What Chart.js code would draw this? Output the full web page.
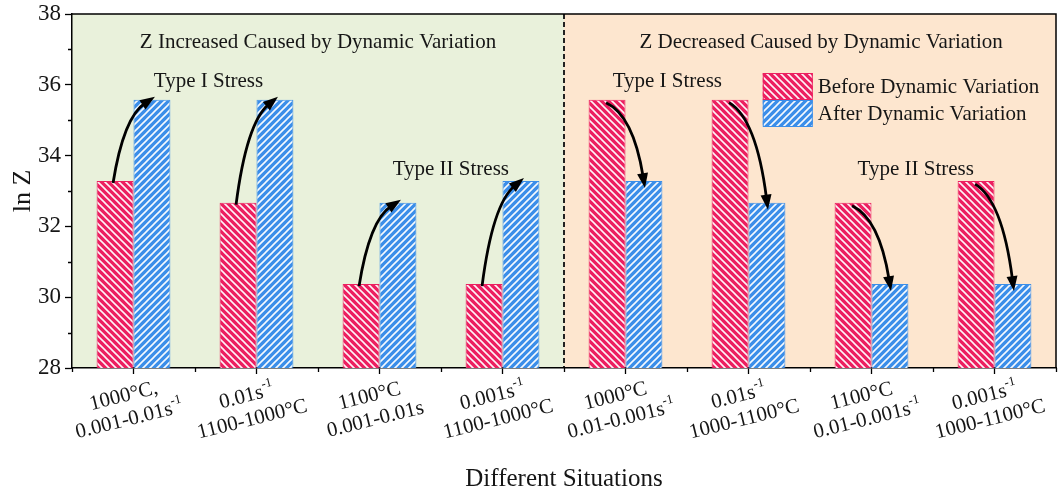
<!DOCTYPE html>
<html>
<head>
<meta charset="utf-8">
<script src="https://cdn.jsdelivr.net/npm/chart.js@4.4.1/dist/chart.umd.min.js"></script>
<style>
  html, body { margin: 0; padding: 0; background: #fff; }
  #wrap { width: 1061px; height: 496px; }
</style>
</head>
<body>
<div id="wrap"><canvas id="chart"></canvas></div>
<script>
// x categories, two lines per tick; ^{..} is drawn as superscript
const categories = [
    ["1000°C,", "0.001-0.01s^{-1}"],
    ["0.01s^{-1}", "1100-1000°C"],
    ["1100°C", "0.001-0.01s"],
    ["0.001s^{-1}", "1100-1000°C"],
    ["1000°C", "0.01-0.001s^{-1}"],
    ["0.01s^{-1}", "1000-1100°C"],
    ["1100°C", "0.01-0.001s^{-1}"],
    ["0.001s^{-1}", "1000-1100°C"]
];
const seriesNames = ["Before Dynamic Variation", "After Dynamic Variation"];
const beforeValues = [33.28, 32.67, 30.37, 30.37, 35.58, 35.58, 32.67, 33.28];
const afterValues = [35.58, 35.58, 32.67, 33.28, 33.28, 32.67, 30.37, 30.37];
const yTicks = [28, 30, 32, 34, 36, 38];
const sectionTitles = ["Z Increased Caused by Dynamic Variation", "Z Decreased Caused by Dynamic Variation"];
const stressNames = ["Type I Stress", "Type II Stress"];

const FONT = "'Liberation Serif', 'Times New Roman', serif";
const RED = "#ec1f60";
const BLUE = "#3b8ee9";
const INK = "#161616";

// diagonal hatch fill: dir > 0 gives "/" lines, otherwise "\"
function hatch(color, dir) {
    let n = 7;
    let c = document.createElement("canvas");
    c.width = n; c.height = n;
    let g = c.getContext("2d");
    g.fillStyle = color;
    g.fillRect(0, 0, n, n);
    g.strokeStyle = "rgba(255,255,255,0.95)";
    g.lineWidth = 1.6;
    g.beginPath();
    if (dir > 0) {
        g.moveTo(-2, n + 2); g.lineTo(n + 2, -2);
        g.moveTo(-2, 2); g.lineTo(2, -2);
        g.moveTo(n - 2, n + 2); g.lineTo(n + 2, n - 2);
    } else {
        g.moveTo(-2, -2); g.lineTo(n + 2, n + 2);
        g.moveTo(-2, n - 2); g.lineTo(2, n + 2);
        g.moveTo(n - 2, -2); g.lineTo(n + 2, 2);
    }
    g.stroke();
    return g.createPattern(c, "repeat");
}

// centered text with ^{..} superscripts
function drawRich(ctx, text, x, y, size) {
    let parts = [];
    let re = /\^\{([^}]*)\}/g, last = 0, m;
    while ((m = re.exec(text))) {
        if (m.index > last) parts.push({ t: text.slice(last, m.index), sup: false });
        parts.push({ t: m[1], sup: true });
        last = re.lastIndex;
    }
    if (last < text.length) parts.push({ t: text.slice(last), sup: false });
    let widths = parts.map(p => {
        ctx.font = (p.sup ? size * 0.62 : size) + "px " + FONT;
        return ctx.measureText(p.t).width;
    });
    let cx = x - widths.reduce((a, b) => a + b, 0) / 2;
    ctx.textAlign = "left";
    ctx.textBaseline = "middle";
    parts.forEach((p, i) => {
        ctx.font = (p.sup ? size * 0.62 : size) + "px " + FONT;
        ctx.fillText(p.t, cx, p.sup ? y - size * 0.36 : y);
        cx += widths[i];
    });
}

function arrow(ctx, s, c, e) {
    let ang = Math.atan2(e.y - c.y, e.x - c.x);
    let len = 15, half = 5.5;
    let bx = e.x - len * Math.cos(ang), by = e.y - len * Math.sin(ang);
    ctx.beginPath();
    ctx.moveTo(s.x, s.y);
    ctx.quadraticCurveTo(c.x, c.y, bx + 3 * Math.cos(ang), by + 3 * Math.sin(ang));
    ctx.lineWidth = 2.8;
    ctx.strokeStyle = "#000";
    ctx.stroke();
    ctx.beginPath();
    ctx.moveTo(e.x, e.y);
    ctx.lineTo(bx - half * Math.sin(ang), by + half * Math.cos(ang));
    ctx.lineTo(bx + half * Math.sin(ang), by - half * Math.cos(ang));
    ctx.closePath();
    ctx.fillStyle = "#000";
    ctx.fill();
}

const decor = {
    id: "decor",
    beforeDraw(chart) {
        let { ctx, chartArea: a, scales: { x } } = chart;
        let mid = x.getPixelForValue(3.5);
        ctx.save();
        ctx.fillStyle = "#fff";
        ctx.fillRect(0, 0, chart.width, chart.height);
        ctx.fillStyle = "#e9f1db";
        ctx.fillRect(a.left, a.top, mid - a.left, a.bottom - a.top);
        ctx.fillStyle = "#fde6cf";
        ctx.fillRect(mid, a.top, a.right - mid, a.bottom - a.top);
        // dashed divider between the two halves
        ctx.setLineDash([5, 3]);
        ctx.strokeStyle = "#222";
        ctx.lineWidth = 2;
        ctx.beginPath();
        ctx.moveTo(mid, a.top);
        ctx.lineTo(mid, a.bottom);
        ctx.stroke();
        ctx.restore();
    },
    afterDatasetsDraw(chart) {
        let { ctx } = chart;
        let b = chart.getDatasetMeta(0).data;
        let f = chart.getDatasetMeta(1).data;
        ctx.save();
        for (let i = 0; i < b.length; i++) {
            if (afterValues[i] > beforeValues[i]) {
                let s = { x: b[i].x - 2, y: b[i].y + 2 };
                let e = { x: f[i].x + 3, y: f[i].y - 3 };
                let c = { x: s.x + 0.25 * (e.x - s.x), y: e.y + 0.24 * (s.y - e.y) };
                arrow(ctx, s, c, e);
            } else {
                let s = { x: b[i].x - 1, y: b[i].y + 3 };
                let e = { x: f[i].x + 1, y: f[i].y + 7 };
                let c = { x: e.x - 0.3 * (e.x - s.x), y: s.y + 0.15 * (e.y - s.y) };
                arrow(ctx, s, c, e);
            }
        }
        ctx.restore();
    },
    afterDraw(chart) {
        let { ctx, chartArea: a, scales: { x, y } } = chart;
        ctx.save();
        ctx.fillStyle = INK;
        ctx.textAlign = "center";
        ctx.textBaseline = "middle";
        ctx.font = "21px " + FONT;

        // section headings and stress type notes
        ctx.fillText(sectionTitles[0], x.getPixelForValue(1.5), y.getPixelForValue(37.2));
        ctx.fillText(sectionTitles[1], x.getPixelForValue(5.59), y.getPixelForValue(37.2));
        ctx.fillText(stressNames[0], x.getPixelForValue(0.61), y.getPixelForValue(36.08));
        ctx.fillText(stressNames[1], x.getPixelForValue(2.58), y.getPixelForValue(33.62));
        ctx.fillText(stressNames[0], x.getPixelForValue(4.34), y.getPixelForValue(36.08));
        ctx.fillText(stressNames[1], x.getPixelForValue(6.36), y.getPixelForValue(33.62));

        // legend inside the plot
        let lx = a.left + 0.702 * (a.right - a.left), ly = a.top + 59;
        chart.data.datasets.forEach((ds, k) => {
            let top = ly + k * 27;
            ctx.fillStyle = ds.backgroundColor;
            ctx.fillRect(lx, top, 50, 27);
            ctx.strokeStyle = ds.borderColor;
            ctx.lineWidth = 1;
            ctx.strokeRect(lx + 0.5, top + 0.5, 49, 26);
            ctx.fillStyle = INK;
            ctx.textAlign = "left";
            ctx.fillText(ds.label, lx + 55, top + 14);
        });

        // top and right frame
        ctx.strokeStyle = "#000";
        ctx.lineWidth = 1.5;
        ctx.beginPath();
        ctx.moveTo(a.left, a.top);
        ctx.lineTo(a.right, a.top);
        ctx.lineTo(a.right, a.bottom);
        ctx.stroke();

        // minor ticks
        ctx.lineWidth = 1.3;
        ctx.beginPath();
        for (let v = yTicks[0] + 1; v < yTicks[yTicks.length - 1]; v += 2) {
            let py = Math.round(y.getPixelForValue(v)) + 0.5;
            ctx.moveTo(a.left, py);
            ctx.lineTo(a.left - 4, py);
        }
        for (let i = 0; i <= categories.length; i++) {
            let px = Math.round(x.getPixelForValue(i - 0.5)) + 0.5;
            ctx.moveTo(px, a.bottom);
            ctx.lineTo(px, a.bottom + 4);
        }
        ctx.stroke();

        // rotated two-line category labels
        ctx.fillStyle = INK;
        chart.data.labels.forEach((lines, i) => {
            ctx.save();
            ctx.translate(x.getPixelForValue(i) - 7, a.bottom + 40);
            ctx.rotate(-14 * Math.PI / 180);
            drawRich(ctx, lines[0], 0, -12, 21);
            drawRich(ctx, lines[1], 0, 12, 21);
            ctx.restore();
        });
        ctx.restore();
    }
};

new Chart(document.getElementById("chart"), {
    type: "bar",
    data: {
        labels: categories,
        datasets: [
            {
                label: seriesNames[0],
                data: beforeValues,
                backgroundColor: hatch(RED, -1),
                borderColor: RED,
                borderWidth: 1
            },
            {
                label: seriesNames[1],
                data: afterValues,
                backgroundColor: hatch(BLUE, 1),
                borderColor: BLUE,
                borderWidth: 1
            }
        ]
    },
    options: {
        responsive: true,
        maintainAspectRatio: false,
        animation: false,
        layout: { padding: { top: 14, right: 5, left: 0, bottom: 0 } },
        datasets: { bar: { barPercentage: 1, categoryPercentage: 0.6 } },
        plugins: { legend: { display: false }, tooltip: { enabled: false } },
        scales: {
            x: {
                grid: { offset: false, drawOnChartArea: false, tickLength: 6, color: "#000", tickWidth: 1.3 },
                border: { color: "#000", width: 1.5 },
                ticks: { display: false },
                title: { display: true, text: "Different Situations", color: INK, font: { family: FONT, size: 25 }, padding: { top: 2, bottom: 2 } },
                afterFit(s) { s.height = 128; }
            },
            y: {
                min: yTicks[0],
                max: yTicks[yTicks.length - 1],
                afterBuildTicks(s) { s.ticks = yTicks.map(v => ({ value: v })); },
                grid: { drawOnChartArea: false, tickLength: 7, color: "#000", tickWidth: 1.3 },
                border: { color: "#000", width: 1.5 },
                ticks: { color: INK, padding: 4, font: { family: FONT, size: 23 } },
                title: { display: true, text: "ln Z", color: INK, font: { family: FONT, size: 26 }, padding: { top: 8, bottom: 8 } },
                afterFit(s) {
                    s.width = 72;
                    s.paddingTop = 0;
                    s.paddingBottom = 0;
                }
            }
        }
    },
    plugins: [decor]
});
</script>
</body>
</html>
